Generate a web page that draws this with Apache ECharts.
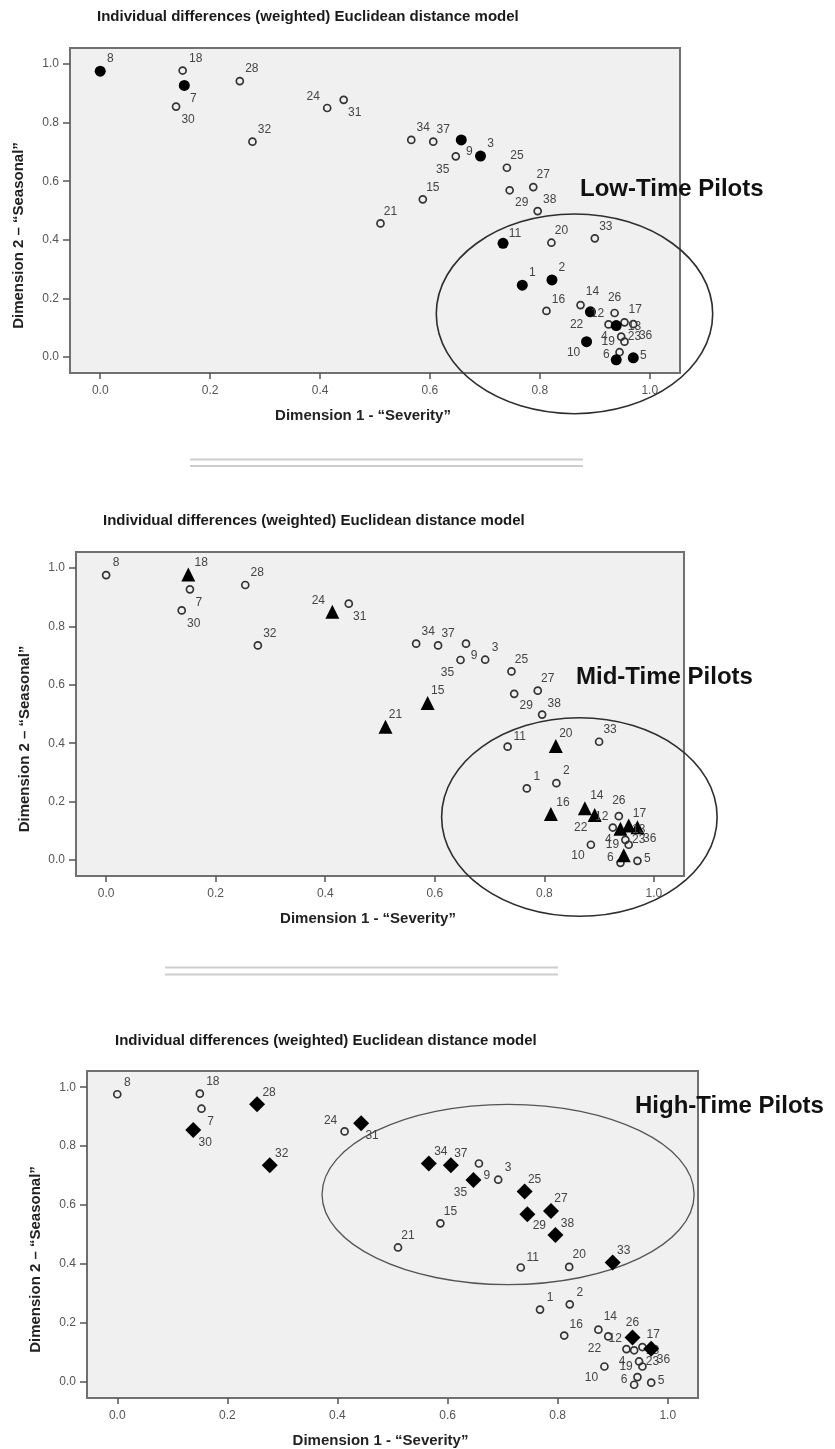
<!DOCTYPE html>
<html>
<head>
<meta charset="utf-8">
<script src="https://cdn.jsdelivr.net/npm/echarts@6/dist/echarts.min.js"></script>
<style>
html,body{margin:0;padding:0;background:#fff;}
#chart{width:835px;height:1449px;}
</style>
</head>
<body>
<div id="chart"></div>
<script>
// ---------------- data ----------------
const stimulusIds = [1,2,3,4,5,6,7,8,9,10,11,12,13,14,15,16,17,18,19,20,21,22,23,24,25,26,27,28,29,30,31,32,33,34,35,36,37,38];
const dim1Severity = [0.768,0.822,0.692,0.939,0.970,0.939,0.153,0.000,0.657,0.885,0.733,0.892,0.954,0.874,0.587,0.812,0.970,0.150,0.948,0.821,0.510,0.925,0.954,0.413,0.740,0.936,0.788,0.254,0.745,0.138,0.443,0.277,0.900,0.566,0.647,0.945,0.606,0.796];
const dim2Seasonal = [0.245,0.263,0.686,0.107,-0.003,-0.010,0.927,0.976,0.741,0.052,0.388,0.154,0.118,0.177,0.538,0.157,0.112,0.978,0.069,0.390,0.456,0.111,0.052,0.850,0.646,0.150,0.580,0.942,0.569,0.855,0.878,0.735,0.405,0.741,0.685,0.016,0.735,0.498];

const lowTimeIds  = [1,2,3,4,5,6,7,8,9,10,11,12];
const midTimeIds  = [4,12,13,14,15,16,17,18,20,21,24,36];
const highTimeIds = [17,25,26,27,28,29,30,31,32,33,34,35,37,38];

// ellipse annotations: [centre dim1, centre dim2, radius dim1, radius dim2]
const lowTimeEllipse  = [0.863, 0.147, 0.2515, 0.341];
const midTimeEllipse  = [0.864, 0.147, 0.2515, 0.340];
const highTimeEllipse = [0.710, 0.636, 0.338, 0.306];

const tickValues = [0.0, 0.2, 0.4, 0.6, 0.8, 1.0];
const chartTitle = 'Individual differences (weighted) Euclidean distance model';
const xAxisTitle = 'Dimension 1 - \u201cSeverity\u201d';
const yAxisTitle = 'Dimension 2 \u2013 \u201cSeasonal\u201d';
const groupNames = ['Low-Time Pilots', 'Mid-Time Pilots', 'High-Time Pilots'];

// ---------------- styles / layout ----------------
const FONT = '"Liberation Sans", Arial, Helvetica, sans-serif';
const AXIS_MIN = -0.055, AXIS_MAX = 1.055;
const panels = [
  {grid:{left:70, top:48, width:610, height:325}, title:{left:97, top:8}, group:{left:580, top:175},
   ids: lowTimeIds, ellipse: lowTimeEllipse, symbol:'circle', size:11, ellipseColor:'#2e2e2e', ellipseWidth:1.6},
  {grid:{left:76, top:552, width:608, height:324}, title:{left:103, top:512}, group:{left:576, top:663},
   ids: midTimeIds, ellipse: midTimeEllipse, symbol:'triangle', size:14, ellipseColor:'#2e2e2e', ellipseWidth:1.6},
  {grid:{left:87, top:1071, width:611, height:327}, title:{left:115, top:1032}, group:{left:635, top:1092},
   ids: highTimeIds, ellipse: highTimeEllipse, symbol:'diamond', size:16, ellipseColor:'#555', ellipseWidth:1.3}
];
const LABEL_OFFSET = {
  7:[9,13], 30:[12,13], 31:[11,13], 24:[-14,-11], 35:[-13,13], 9:[8,12], 29:[12,12],
  10:[-13,11], 22:[-32,0], 4:[-12,11], 19:[-13,5], 23:[10,-5], 36:[26,-17], 13:[10,4],
  17:[2,-14], 26:[0,-15], 14:[12,-13], 12:[7,2], 6:[-10,-5], 5:[10,-2], 18:[13,-12],
  28:[12,-12], 32:[12,-12], 34:[12,-12], 38:[12,-11], 11:[12,-10], 33:[11,-12], 16:[12,-11]
};
const DEFAULT_OFFSET = [10,-12];

function pointItem(k){
  const id = stimulusIds[k];
  return {
    value:[dim1Severity[k], dim2Seasonal[k], id],
    label:{offset: LABEL_OFFSET[id] || DEFAULT_OFFSET}
  };
}
const labelStyle = {
  show:true, position:'inside', formatter: p => String(p.value[2]),
  color:'#444', fontSize:12, fontFamily:FONT
};

const grids=[], xAxes=[], yAxes=[], series=[], titles=[];
panels.forEach((p,i)=>{
  grids.push(Object.assign({show:true, backgroundColor:'#f0f0f0', borderColor:'#707070', borderWidth:2}, p.grid));
  xAxes.push({
    gridIndex:i, type:'value', min:AXIS_MIN, max:AXIS_MAX, position:'bottom',
    axisLine:{show:false, onZero:false}, splitLine:{show:false},
    axisTick:{show:true, length:6, customValues:tickValues, lineStyle:{color:'#555', width:1.5}},
    axisLabel:{customValues:tickValues, formatter:v=>v.toFixed(1), color:'#555', fontSize:12, fontFamily:FONT, margin:12},
    name:xAxisTitle, nameLocation:'middle', nameGap:35,
    nameTextStyle:{fontSize:15, fontWeight:'bold', color:'#222', fontFamily:FONT, padding:[0,24,0,0]}
  });
  yAxes.push({
    gridIndex:i, type:'value', min:AXIS_MIN, max:AXIS_MAX, position:'left',
    axisLine:{show:false, onZero:false}, splitLine:{show:false},
    axisTick:{show:true, length:7, customValues:tickValues, lineStyle:{color:'#555', width:1.5}},
    axisLabel:{customValues:tickValues, formatter:v=>v.toFixed(1), color:'#555', fontSize:12, fontFamily:FONT, margin:11},
    name:yAxisTitle, nameLocation:'middle', nameGap:44,
    nameTextStyle:{fontSize:15, fontWeight:'bold', color:'#222', fontFamily:FONT, padding:[0,50,0,0]}
  });
  titles.push({text:chartTitle, left:p.title.left, top:p.title.top, padding:0,
    textStyle:{fontSize:15, fontWeight:'bold', color:'#1a1a1a', fontFamily:FONT, lineHeight:18}});
  titles.push({text:groupNames[i], left:p.group.left, top:p.group.top, padding:0,
    textStyle:{fontSize:24, fontWeight:'bold', color:'#111', fontFamily:FONT, lineHeight:28}});

  const hi = new Set(p.ids);
  const openData=[], hiData=[];
  stimulusIds.forEach((id,k)=>{ (hi.has(id)?hiData:openData).push(pointItem(k)); });

  series.push({
    type:'custom', xAxisIndex:i, yAxisIndex:i, clip:false, silent:true, z:1,
    data:[p.ellipse], encode:{x:0,y:1},
    renderItem:(params, api)=>{
      const c = api.coord([api.value(0), api.value(1)]);
      const e = api.coord([api.value(0)+api.value(2), api.value(1)+api.value(3)]);
      return {type:'ellipse', shape:{cx:c[0], cy:c[1], rx:Math.abs(e[0]-c[0]), ry:Math.abs(e[1]-c[1])},
        style:{fill:'none', stroke:p.ellipseColor, lineWidth:p.ellipseWidth}};
    }
  });
  series.push({
    type:'scatter', xAxisIndex:i, yAxisIndex:i, z:3, silent:true,
    symbol:'circle', symbolSize:7,
    itemStyle:{color:'rgba(0,0,0,0)', borderColor:'#333', borderWidth:1.7, opacity:1},
    label:labelStyle, data:openData
  });
  series.push({
    type:'scatter', xAxisIndex:i, yAxisIndex:i, z:4, silent:true,
    symbol:p.symbol, symbolSize:p.size,
    itemStyle:{color:'#000', opacity:1},
    label:labelStyle, data:hiData
  });
});

const sepStyle = {stroke:'#cdcdcd', lineWidth:2};
const option = {
  animation:false,
  backgroundColor:'#fff',
  title:titles,
  grid:grids, xAxis:xAxes, yAxis:yAxes, series:series,
  graphic:[
    {type:'line', shape:{x1:190,y1:459.5,x2:583,y2:459.5}, style:sepStyle, silent:true},
    {type:'line', shape:{x1:190,y1:466,x2:583,y2:466}, style:sepStyle, silent:true},
    {type:'line', shape:{x1:165,y1:967.5,x2:558,y2:967.5}, style:sepStyle, silent:true},
    {type:'line', shape:{x1:165,y1:974.5,x2:558,y2:974.5}, style:sepStyle, silent:true}
  ]
};
const chart = echarts.init(document.getElementById('chart'), null, {renderer:'canvas'});
chart.setOption(option);
</script>
</body>
</html>
